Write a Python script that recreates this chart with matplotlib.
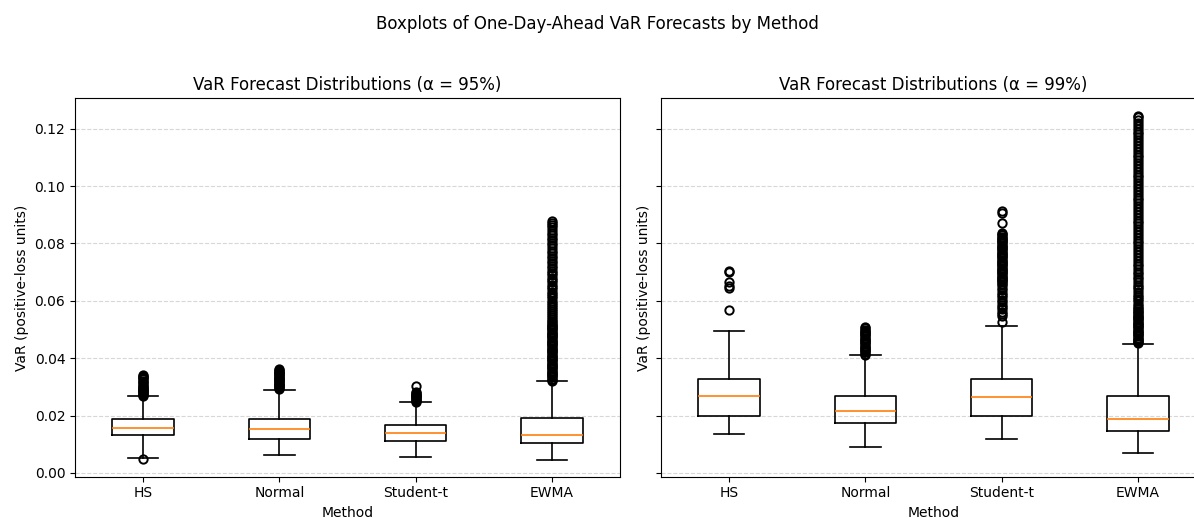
import matplotlib
matplotlib.use('Agg')
import matplotlib.pyplot as plt

methods = ['HS', 'Normal', 'Student-t', 'EWMA']

# alpha = 95%
med95 = [0.0156, 0.0153, 0.0140, 0.0132]
q1_95 = [0.0131, 0.0120, 0.0111, 0.0104]
q3_95 = [0.0187, 0.0187, 0.0166, 0.0191]
lo95 = [0.0054, 0.0061, 0.0056, 0.0047]
hi95 = [0.0270, 0.0291, 0.0248, 0.0319]

fl_hs95 = [0.0050, 0.0269, 0.0272, 0.0275, 0.0279, 0.0282, 0.0285, 0.0288, 0.0291,
           0.0294, 0.0297, 0.0300, 0.0304, 0.0308, 0.0312, 0.0317, 0.0322, 0.0327,
           0.0331, 0.0335, 0.0339, 0.0343]
fl_norm95 = [0.0293, 0.0296, 0.0299, 0.0302, 0.0305, 0.0308, 0.0311, 0.0314, 0.0317,
             0.0320, 0.0323, 0.0326, 0.0329, 0.0332, 0.0335, 0.0338, 0.0341, 0.0344,
             0.0347, 0.0350, 0.0353, 0.0356, 0.0359, 0.0362]
fl_st95 = [0.0249, 0.0252, 0.0255, 0.0258, 0.0261, 0.0264, 0.0267, 0.0270, 0.0273,
           0.0276, 0.0279, 0.0282, 0.0303]
fl_ewma95 = [0.0321, 0.0325, 0.0329, 0.0333, 0.0337, 0.0341, 0.0345, 0.0349, 0.0353,
             0.0357, 0.0361, 0.0365, 0.0369, 0.0373, 0.0377, 0.0381, 0.0385, 0.0389,
             0.0393, 0.0397, 0.0401, 0.0405, 0.0409, 0.0413, 0.0417, 0.0421, 0.0425,
             0.0429, 0.0433, 0.0437, 0.0441, 0.0445, 0.0449, 0.0453, 0.0457, 0.0461,
             0.0465, 0.0469, 0.0473, 0.0477, 0.0481, 0.0485, 0.0489, 0.0493, 0.0497,
             0.0501, 0.0505, 0.0509, 0.0513, 0.0517, 0.0521, 0.0525, 0.0530, 0.0536,
             0.0542, 0.0549, 0.0556, 0.0563, 0.0571, 0.0579, 0.0586, 0.0594, 0.0601,
             0.0609, 0.0617, 0.0624, 0.0632, 0.0640, 0.0648, 0.0656, 0.0664, 0.0672,
             0.0681, 0.0689, 0.0697, 0.0705, 0.0714, 0.0722, 0.0731, 0.0740, 0.0748,
             0.0757, 0.0766, 0.0775, 0.0784, 0.0793, 0.0802, 0.0811, 0.0820, 0.0829,
             0.0838, 0.0847, 0.0856, 0.0864, 0.0871, 0.0877]

# alpha = 99%
med99 = [0.0269, 0.0216, 0.0266, 0.0187]
q1_99 = [0.0199, 0.0173, 0.0199, 0.0148]
q3_99 = [0.0326, 0.0270, 0.0326, 0.0270]
lo99 = [0.0135, 0.0089, 0.0117, 0.0069]
hi99 = [0.0494, 0.0410, 0.0514, 0.0451]

fl_hs99 = [0.0569, 0.0645, 0.0653, 0.0665, 0.0700, 0.0704]
fl_norm99 = [0.0412, 0.0416, 0.0420, 0.0424, 0.0428, 0.0432, 0.0436, 0.0440, 0.0444,
             0.0448, 0.0452, 0.0456, 0.0460, 0.0464, 0.0468, 0.0472, 0.0476, 0.0480,
             0.0484, 0.0488, 0.0492, 0.0496, 0.0500, 0.0504, 0.0508]
fl_st99 = [0.0526, 0.0546, 0.0553, 0.0561, 0.0570, 0.0578, 0.0587, 0.0596, 0.0604,
           0.0612, 0.0621, 0.0629, 0.0638, 0.0646, 0.0654, 0.0660, 0.0664, 0.0668,
           0.0672, 0.0676, 0.0680, 0.0684, 0.0688, 0.0692, 0.0696, 0.0700, 0.0704,
           0.0708, 0.0712, 0.0716, 0.0720, 0.0724, 0.0728, 0.0732, 0.0736, 0.0740,
           0.0744, 0.0748, 0.0752, 0.0756, 0.0760, 0.0764, 0.0768, 0.0772, 0.0776,
           0.0780, 0.0784, 0.0788, 0.0792, 0.0796, 0.0800, 0.0804, 0.0808, 0.0812,
           0.0816, 0.0820, 0.0824, 0.0828, 0.0833, 0.0838, 0.0873, 0.0907, 0.0913]
fl_ewma99 = [0.0452, 0.0456, 0.0460, 0.0464, 0.0468, 0.0472, 0.0476, 0.0480, 0.0484,
             0.0488, 0.0492, 0.0496, 0.0500, 0.0504, 0.0508, 0.0512, 0.0516, 0.0520,
             0.0524, 0.0528, 0.0532, 0.0536, 0.0540, 0.0544, 0.0548, 0.0552, 0.0556,
             0.0560, 0.0565, 0.0570, 0.0576, 0.0583, 0.0590, 0.0598, 0.0606, 0.0614,
             0.0622, 0.0631, 0.0640, 0.0648, 0.0657, 0.0666, 0.0675, 0.0684, 0.0693,
             0.0702, 0.0711, 0.0720, 0.0730, 0.0740, 0.0750, 0.0760, 0.0770, 0.0780,
             0.0790, 0.0800, 0.0810, 0.0820, 0.0830, 0.0840, 0.0850, 0.0860, 0.0870,
             0.0880, 0.0890, 0.0900, 0.0910, 0.0920, 0.0930, 0.0940, 0.0950, 0.0960,
             0.0970, 0.0980, 0.0990, 0.1000, 0.1010, 0.1020, 0.1030, 0.1040, 0.1050,
             0.1060, 0.1070, 0.1080, 0.1090, 0.1100, 0.1110, 0.1120, 0.1130, 0.1140,
             0.1150, 0.1160, 0.1170, 0.1180, 0.1190, 0.1200, 0.1210, 0.1220, 0.1230,
             0.1240, 0.1246]

fliers95 = [fl_hs95, fl_norm95, fl_st95, fl_ewma95]
fliers99 = [fl_hs99, fl_norm99, fl_st99, fl_ewma99]


def make_stats(med, q1, q3, lo, hi, fl):
    stats = []
    for i in range(len(methods)):
        stats.append({'label': methods[i], 'med': med[i], 'q1': q1[i], 'q3': q3[i],
                      'whislo': lo[i], 'whishi': hi[i], 'fliers': fl[i]})
    return stats


lw = 1.2
box_kw = dict(boxprops={'linewidth': lw}, whiskerprops={'linewidth': lw},
              capprops={'linewidth': lw}, medianprops={'linewidth': lw, 'color': '#ff7f0e'},
              flierprops={'markeredgewidth': 1.4})

fig = plt.figure(figsize=(11.94, 5.18), dpi=100)
ax1 = fig.add_axes([0.0628, 0.0797, 0.4565, 0.7305])
ax2 = fig.add_axes([0.5536, 0.0797, 0.4565, 0.7305], sharey=ax1)

ax1.bxp(make_stats(med95, q1_95, q3_95, lo95, hi95, fliers95), **box_kw)
ax2.bxp(make_stats(med99, q1_99, q3_99, lo99, hi99, fliers99), **box_kw)

ax1.set_title('VaR Forecast Distributions (α = 95%)')
ax2.set_title('VaR Forecast Distributions (α = 99%)')
for ax in [ax1, ax2]:
    ax.set_xlabel('Method')
    ax.set_ylabel('VaR (positive-loss units)')
    ax.grid(axis='y', linestyle='--', alpha=0.5)
plt.setp(ax2.get_yticklabels(), visible=False)

fig.suptitle('Boxplots of One-Day-Ahead VaR Forecasts by Method', y=0.972)

fig.savefig('out.png', dpi=100)
